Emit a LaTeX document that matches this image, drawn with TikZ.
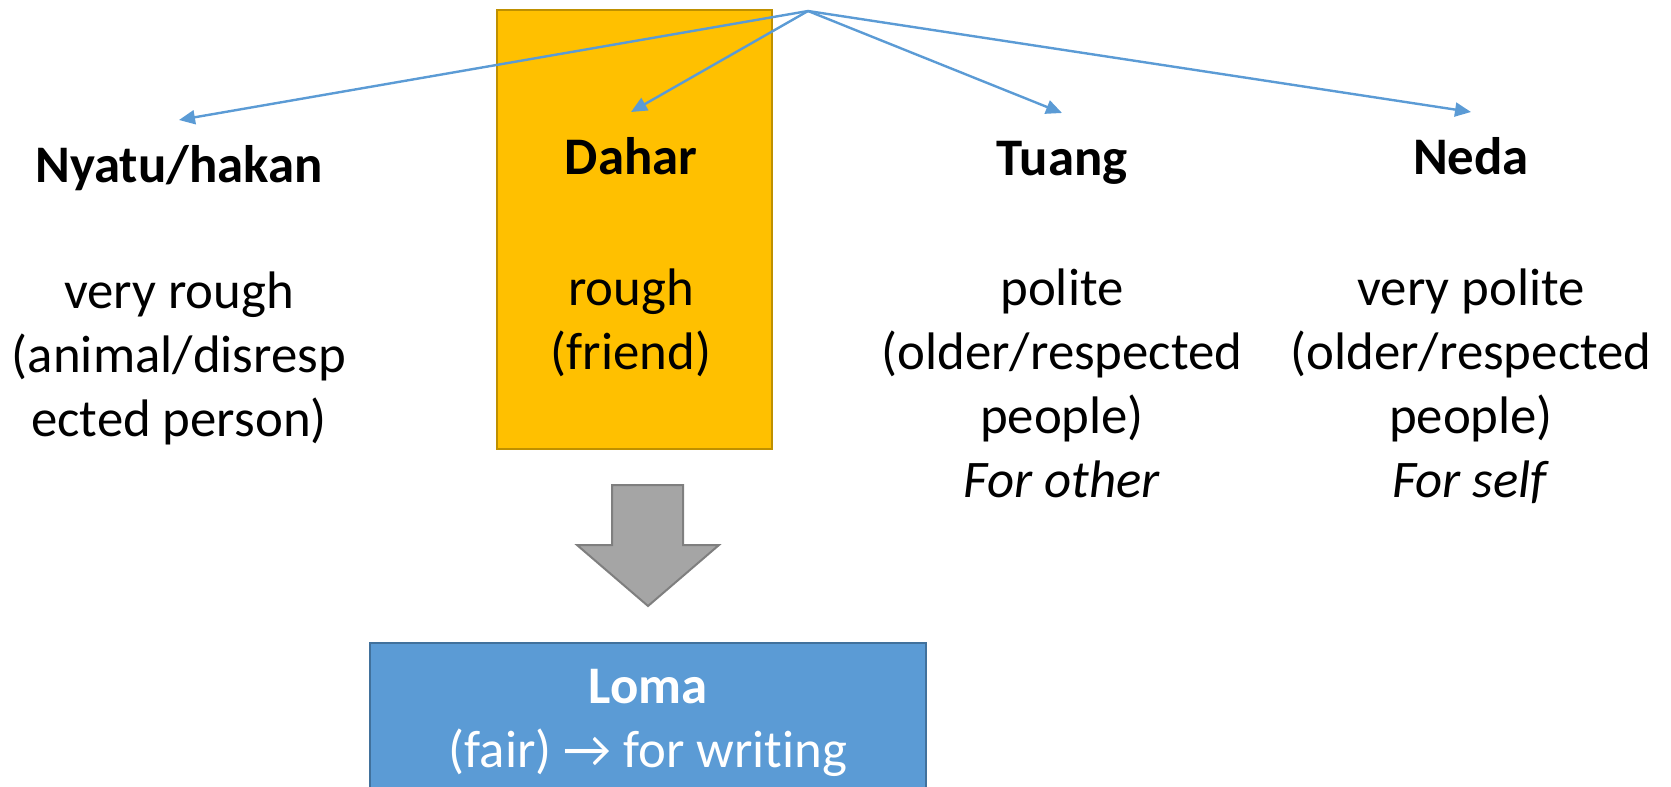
\documentclass[tikz,border=0pt]{standalone}
\usepackage{fontspec}
\setmainfont[Ligatures=NoCommon]{Carlito}
\usetikzlibrary{arrows.meta}

\definecolor{linkblue}{HTML}{5B9BD5}
\definecolor{roughfill}{HTML}{FFC000}
\definecolor{roughedge}{HTML}{BF9000}
\definecolor{lomaedge}{HTML}{41719C}
\definecolor{downfill}{HTML}{A5A5A5}
\definecolor{downedge}{HTML}{7F7F7F}

\tikzset{
  link/.style={draw=linkblue, line width=1.2pt, -{Triangle[length=8pt,width=7pt]}},
  level/.style={font=\fontsize{26.4}{32}\selectfont\bfseries, inner sep=0pt, text height=18pt, outer ysep=13pt, anchor=base},
  usage/.style={font=\fontsize{26.4}{32}\selectfont, align=center, inner sep=0pt, anchor=north},
}

\begin{document}
\begin{tikzpicture}[x=0.5pt, y=-0.5pt]
  \useasboundingbox (0,0) rectangle (1671,787);

  %% highlighted level
  \node[draw=roughedge, fill=roughfill, line width=1pt, inner sep=0pt,
        minimum width=137.5pt, minimum height=219.5pt] (roughbox) at (634.5,229.5) {};

  %% the four levels
  \node[level] (nyatu) at (179,182) {Nyatu/hakan};
  \node[level] (dahar) at (631,174) {Dahar};
  \node[level] (tuang) at (1062,175) {Tuang};
  \node[level] (neda) at (1471,174) {Neda};

  \node[usage] (nyatu-use) at (179,271) {very rough\\(animal/disresp\\ected person)};
  \node[usage] (dahar-use) at (631,268) {rough\\(friend)};
  \node[usage] (tuang-use) at (1062,268) {polite\\(older/respected\\people)\\\textit{For other}};
  \node[usage] (neda-use) at (1471,268) {very polite\\(older/respected\\people)\\\textit{For self}};

  %% fan out from one point
  \coordinate (top) at (808,11);
  \draw[link] (top) -- (nyatu.north);
  \draw[link] (top) -- (dahar.north);
  \draw[link] (top) -- (tuang.north);
  \draw[link] (top) -- (neda.north);

  %% block arrow down to the written form
  \draw[fill=downfill, draw=downedge, line width=1pt]
    (612,485) -- (683,485) -- (683,545) -- (719,545) -- (648,606)
    -- (577,545) -- (612,545) -- cycle;

  \node[draw=lomaedge, fill=linkblue, line width=1pt, inner sep=0pt, anchor=north,
        minimum width=278pt, minimum height=80pt] (loma) at (648,642) {};
  \node[usage, text=white] (loma-text) at (648,669) {\textbf{Loma}\\(fair) → for writing};
\end{tikzpicture}
\end{document}
